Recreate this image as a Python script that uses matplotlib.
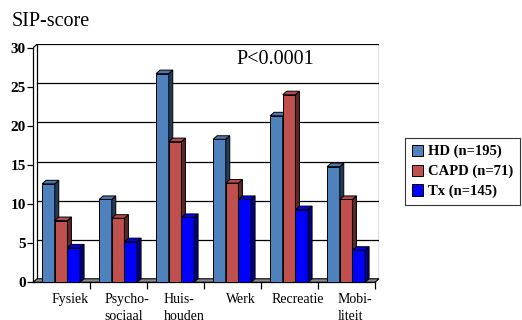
import matplotlib
matplotlib.use("Agg")
import matplotlib.pyplot as plt
from matplotlib.patches import Polygon, Rectangle
import numpy as np

categories = ["Fysiek", "Psycho-\nsociaal", "Huis-\nhouden", "Werk", "Recreatie", "Mobi-\nliteit"]
series_names = ["HD (n=195)", "CAPD (n=71)", "Tx (n=145)"]
hd = [12.6, 10.6, 26.7, 18.3, 21.3, 14.8]
capd = [7.9, 8.2, 18.0, 12.7, 24.0, 10.6]
tx = [4.4, 5.2, 8.3, 10.6, 9.3, 4.1]
yticks = [0, 5, 10, 15, 20, 25, 30]

front_colors = ["#4F81BD", "#C0504D", "#0000FF"]
side_colors = ["#233A57", "#5E2624", "#000080"]
top_colors = ["#4A79B2", "#B84B48", "#0000F0"]

W, H = 522, 320
fig = plt.figure(figsize=(W / 100, H / 100), dpi=100)
fig.patch.set_facecolor("white")

# axes spans from the front-left corner to the back-right corner of the box
x0, x1 = 33, 379
y_top, y_bot = 44.3, 282.3
ax = fig.add_axes([x0 / W, (H - y_bot) / H, (x1 - x0) / W, (y_bot - y_top) / H])

n = len(categories)
dx = 0.07   # depth shift, category units
dy = 0.45   # depth shift, value units
ymax = 30
ax.set_xlim(0, n + dx)
ax.set_ylim(0, ymax + dy)
ax.set_facecolor("none")

# back wall with gridlines
for v in yticks[1:]:
    ax.plot([dx, n + dx], [v + dy, v + dy], color="black", lw=0.9, zorder=1)
ax.plot([dx, dx], [dy, ymax + dy], color="black", lw=0.9, zorder=1)
ax.plot([n + dx, n + dx], [dy, ymax + dy], color="black", lw=0.9, zorder=1)
ax.plot([0, dx], [ymax, ymax + dy], color="black", lw=0.9, zorder=1)

# floor
floor = Polygon([(0, 0), (n, 0), (n + dx, dy), (dx, dy)], closed=True,
                facecolor="#8C8C8C", edgecolor="black", lw=0.8, zorder=2, clip_on=False)
ax.add_patch(floor)

# 3D-looking clustered bars
bw = 0.222
start = 0.16
data = [hd, capd, tx]
for s, vals in enumerate(data):
    xs = np.arange(n) + start + s * bw
    ax.bar(xs, vals, width=bw, align="edge", color=front_colors[s],
           edgecolor="black", linewidth=0.7, zorder=3 + s * 0.01, label=series_names[s])
    for xl, v in zip(xs, vals):
        xr = xl + bw
        side = Polygon([(xr, 0), (xr + dx, dy), (xr + dx, v + dy), (xr, v)], closed=True,
                       facecolor=side_colors[s], edgecolor="black", lw=0.7, zorder=3 + s * 0.01)
        top = Polygon([(xl, v), (xr, v), (xr + dx, v + dy), (xl + dx, v + dy)], closed=True,
                      facecolor=top_colors[s], edgecolor="black", lw=0.7, zorder=3 + s * 0.01)
        ax.add_patch(side)
        ax.add_patch(top)

# axes lines and ticks
for sp in ["top", "right"]:
    ax.spines[sp].set_visible(False)
ax.spines["left"].set_bounds(0, ymax)
ax.spines["bottom"].set_bounds(0, n)
ax.spines["left"].set_linewidth(0.9)
ax.spines["bottom"].set_linewidth(0.9)
ax.set_yticks(yticks)
ax.set_yticklabels([str(v) for v in yticks], fontfamily="Liberation Serif",
                   fontweight="bold", fontsize=11)
ax.tick_params(axis="y", length=4, width=0.9, pad=1)
ax.set_xticks(np.arange(1, n + 1))
ax.set_xticklabels([])
ax.tick_params(axis="x", length=5, width=0.9)

for i, c in enumerate(categories):
    ax.text(i + 0.5 + 0.15, -1.35, c, ha="center", va="top", ma="left",
            fontfamily="Liberation Serif", fontsize=10, linespacing=1.45)

ax.text(275 / W, (H - 59) / H, "P<0.0001", transform=fig.transFigure,
        ha="center", va="center", fontfamily="Liberation Serif", fontsize=14.5)
fig.text(12 / W, (H - 22) / H, "SIP-score", ha="left", va="center",
         fontfamily="Liberation Serif", fontsize=14.5)

# legend
handles = [Rectangle((0, 0), 1, 1, facecolor=front_colors[s], edgecolor="black", lw=0.7)
           for s in range(3)]
leg = fig.legend(handles, series_names, loc="upper left",
                 bbox_to_anchor=(405 / W, (H - 138) / H),
                 prop={"family": "Liberation Serif", "weight": "bold", "size": 10.5},
                 frameon=True, fancybox=False, edgecolor="black",
                 handlelength=0.8, handleheight=0.8, handletextpad=0.35,
                 borderpad=0.45, labelspacing=0.42, borderaxespad=0)
leg.get_frame().set_linewidth(0.8)

fig.savefig("out.png", dpi=100)
